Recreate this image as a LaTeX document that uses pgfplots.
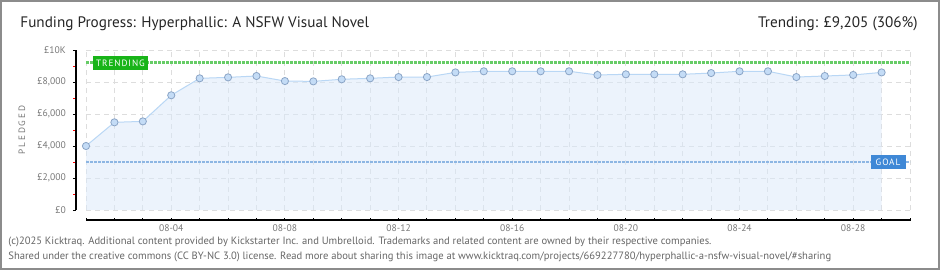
\documentclass[border=0pt]{standalone}
\usepackage{fontspec}
\setmainfont{PT Sans}
\usepackage{pgfplots}
\pgfplotsset{compat=1.18}

\definecolor{areablue}{RGB}{219,233,251}
\definecolor{lineblue}{RGB}{185,215,245}
\definecolor{markfill}{RGB}{196,220,246}
\definecolor{markedge}{RGB}{138,164,198}
\definecolor{gridgray}{RGB}{221,221,221}
\definecolor{trendgreen}{RGB}{102,204,102}
\definecolor{goalblue}{RGB}{141,182,227}
\definecolor{trendbox}{RGB}{24,180,24}
\definecolor{goalbox}{RGB}{63,136,214}
\definecolor{labelgray}{RGB}{120,120,120}
\definecolor{framegray}{RGB}{140,140,140}

\begin{document}
\begin{tikzpicture}
\useasboundingbox (0,0) rectangle (470pt,135pt);
\fill[white] (0,0) rectangle (470pt,135pt);

\begin{axis}[
  at={(43pt,30pt)}, anchor=south west,
  scale only axis, width=412pt, height=80pt,
  xmin=1, xmax=30, ymin=0, ymax=10000,
  scaled y ticks=false,
  axis x line*=bottom, axis y line*=left,
  axis x line shift=5pt, axis y line shift=5pt,
  x axis line style={-, black, line width=0.6pt},
  y axis line style={-, black, line width=0.6pt},
  tick align=outside, major tick length=1.6pt, minor tick length=1.4pt,
  xtick={1,...,30},
  xticklabels={,,,08-04,,,,08-08,,,,08-12,,,,08-16,,,,08-20,,,,08-24,,,,08-28,,},
  x tick style={black, line width=0.5pt, yshift=1.2pt},
  xticklabel style={yshift=3pt},
  ytick={0,2000,4000,6000,8000,10000},
  yticklabels={{£0},{£2,000},{£4,000},{£6,000},{£8,000},{£10K}},
  minor ytick={1000,3000,5000,7000,9000},
  y tick style={black, line width=0.5pt},
  minor y tick style={red, line width=0.5pt},
  ticklabel style={font=\fontsize{4.8}{5}\selectfont, text=labelgray},
  grid=major,
  major grid style={gridgray, line width=0.5pt, dash pattern=on 2.5pt off 2pt},
  clip=false,
]
\addplot[draw=none, fill=areablue, fill opacity=0.5] coordinates {
(1,4000)(2,5480)(3,5540)(4,7170)(5,8230)(6,8290)(7,8375)(8,8060)(9,8040)(10,8170)
(11,8230)(12,8310)(13,8310)(14,8600)(15,8670)(16,8670)(17,8670)(18,8670)(19,8440)(20,8480)
(21,8480)(22,8480)(23,8560)(24,8670)(25,8670)(26,8310)(27,8375)(28,8440)(29,8600)
} \closedcycle;
\addplot[trendgreen, line width=1.4pt, dash pattern=on 1.4pt off 0.6pt] coordinates {(1,9205)(30,9205)};
\addplot[goalblue, line width=1.4pt, dash pattern=on 1.4pt off 0.6pt] coordinates {(1,3000)(30,3000)};
\addplot[lineblue, line width=0.5pt, mark=*, mark size=1.8pt,
  mark options={fill=markfill, draw=markedge, line width=0.4pt}] coordinates {
(1,4000)(2,5480)(3,5540)(4,7170)(5,8230)(6,8290)(7,8375)(8,8060)(9,8040)(10,8170)
(11,8230)(12,8310)(13,8310)(14,8600)(15,8670)(16,8670)(17,8670)(18,8670)(19,8440)(20,8480)
(21,8480)(22,8480)(23,8560)(24,8670)(25,8670)(26,8310)(27,8375)(28,8440)(29,8600)
};
\end{axis}

\begin{scope}[x=0.5pt, y=-0.5pt, yshift=135pt]
  \draw[framegray, line width=1pt] (1,1) rectangle (939,269);
  \node[anchor=west, text=black!85, font=\fontsize{7.6}{8}\selectfont, inner sep=0] at (20,24)
    {Funding Progress: Hyperphallic: A NSFW Visual Novel};
  \node[anchor=east, text=black!85, font=\fontsize{7.6}{8}\selectfont, inner sep=0] at (918,24)
    {Trending: £9,205 (306\%)};
  \node[rotate=90, text=labelgray, font=\fontsize{4.6}{5}\selectfont\addfontfeature{LetterSpace=20}] at (22,130) {PLEDGED};
  \node[fill=trendbox, text=white, inner sep=0, minimum width=27.5pt, minimum height=7pt,
    font=\fontsize{4.6}{5}\selectfont\addfontfeature{LetterSpace=10}] at (120.5,63) {TRENDING};
  \node[fill=goalbox, text=white, inner sep=0, minimum width=17.5pt, minimum height=7pt,
    font=\fontsize{4.6}{5}\selectfont\addfontfeature{LetterSpace=10}] at (888,162) {GOAL};
  \node[anchor=west, text=black!60, font=\fontsize{5.3}{6}\selectfont, inner sep=0] at (8,242)
    {(c)2025 Kicktraq. Additional content provided by Kickstarter Inc. and Umbrelloid. Trademarks and related content are owned by their respective companies.};
  \node[anchor=west, text=black!60, font=\fontsize{5.3}{6}\selectfont, inner sep=0] at (8,257)
    {Shared under the creative commons (CC BY-NC 3.0) license. Read more about sharing this image at www.kicktraq.com/projects/669227780/hyperphallic-a-nsfw-visual-novel/\#sharing};
\end{scope}
\end{tikzpicture}
\end{document}
